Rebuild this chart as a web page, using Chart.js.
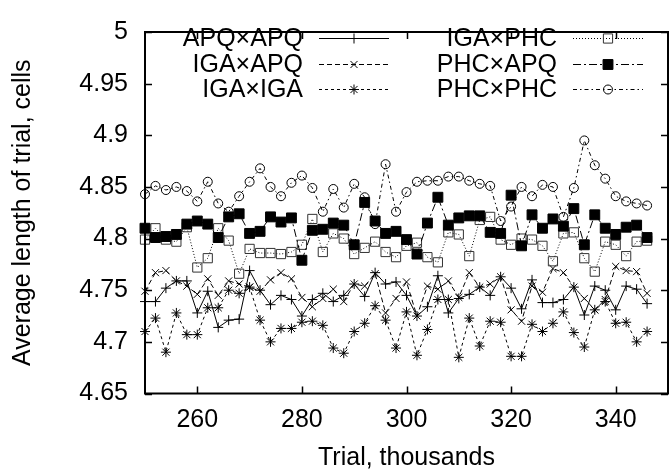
<!DOCTYPE html>
<html>
<head>
<meta charset="utf-8">
<script src="https://cdn.jsdelivr.net/npm/chart.js@4.4.0/dist/chart.umd.min.js"></script>
<style>
  html, body { margin: 0; padding: 0; background: #fff; overflow: hidden; }
  #wrap { width: 676px; height: 474px; }
</style>
</head>
<body>
<div id="wrap"><canvas id="chart" width="676" height="474"></canvas></div>
<script>
// trial, thousands
const trials = [250, 252, 254, 256, 258, 260, 262, 264, 266, 268,
                270, 272, 274, 276, 278, 280, 282, 284, 286, 288,
                290, 292, 294, 296, 298, 300, 302, 304, 306, 308,
                310, 312, 314, 316, 318, 320, 322, 324, 326, 328,
                330, 332, 334, 336, 338, 340, 342, 344, 346];

const xTicks = [260, 280, 300, 320, 340];
const yTicks = [4.65, 4.7, 4.75, 4.8, 4.85, 4.9, 4.95, 5];

// average length of trial, cells
const apqApq = [4.739, 4.739, 4.752, 4.759, 4.759, 4.728, 4.749, 4.714, 4.721, 4.722,
                4.769, 4.750, 4.736, 4.745, 4.741, 4.725, 4.741, 4.747, 4.739, 4.745,
                4.756, 4.744, 4.767, 4.756, 4.758, 4.745, 4.725, 4.734, 4.764, 4.728,
                4.742, 4.746, 4.753, 4.745, 4.763, 4.752, 4.732, 4.760, 4.738, 4.738,
                4.741, 4.753, 4.726, 4.754, 4.750, 4.731, 4.754, 4.751, 4.737];
const igaApq = [4.749, 4.767, 4.769, 4.759, 4.754, 4.746, 4.761, 4.745, 4.759, 4.756,
                4.753, 4.749, 4.760, 4.767, 4.761, 4.743, 4.734, 4.742, 4.751, 4.739,
                4.756, 4.754, 4.766, 4.728, 4.742, 4.758, 4.725, 4.754, 4.751, 4.759,
                4.743, 4.767, 4.753, 4.756, 4.763, 4.731, 4.720, 4.754, 4.748, 4.771,
                4.767, 4.753, 4.742, 4.731, 4.741, 4.773, 4.769, 4.768, 4.747];
const igaIga = [4.710, 4.723, 4.690, 4.728, 4.707, 4.707, 4.733, 4.733, 4.750, 4.747,
                4.753, 4.721, 4.700, 4.713, 4.713, 4.719, 4.720, 4.716, 4.694, 4.689,
                4.710, 4.718, 4.735, 4.721, 4.694, 4.729, 4.687, 4.712, 4.741, 4.741,
                4.685, 4.723, 4.696, 4.720, 4.719, 4.686, 4.686, 4.717, 4.710, 4.718,
                4.729, 4.709, 4.695, 4.731, 4.739, 4.718, 4.719, 4.700, 4.710];
const igaPhc = [4.799, 4.810, 4.799, 4.797, 4.811, 4.772, 4.781, 4.810, 4.798, 4.766,
                4.790, 4.786, 4.786, 4.785, 4.787, 4.794, 4.819, 4.787, 4.805, 4.800,
                4.785, 4.791, 4.797, 4.787, 4.782, 4.793, 4.796, 4.782, 4.777, 4.806,
                4.804, 4.783, 4.818, 4.821, 4.799, 4.794, 4.800, 4.799, 4.793, 4.778,
                4.805, 4.806, 4.781, 4.768, 4.797, 4.794, 4.783, 4.797, 4.798];
const phcApq = [4.810, 4.801, 4.802, 4.804, 4.814, 4.817, 4.814, 4.801, 4.821, 4.824,
                4.805, 4.807, 4.821, 4.816, 4.820, 4.779, 4.808, 4.809, 4.815, 4.813,
                4.794, 4.835, 4.817, 4.805, 4.807, 4.799, 4.785, 4.815, 4.840, 4.813,
                4.820, 4.822, 4.822, 4.806, 4.805, 4.842, 4.793, 4.823, 4.810, 4.819,
                4.812, 4.829, 4.794, 4.823, 4.810, 4.804, 4.811, 4.813, 4.801];
const phcPhc = [4.843, 4.851, 4.847, 4.850, 4.846, 4.836, 4.855, 4.834, 4.826, 4.841,
                4.855, 4.868, 4.850, 4.841, 4.854, 4.861, 4.849, 4.826, 4.848, 4.830,
                4.853, 4.840, 4.814, 4.872, 4.826, 4.845, 4.855, 4.856, 4.856, 4.860,
                4.860, 4.856, 4.853, 4.851, 4.817, 4.831, 4.850, 4.841, 4.852, 4.850,
                4.821, 4.849, 4.895, 4.871, 4.858, 4.841, 4.836, 4.834, 4.832];

const seriesNames = ['APQ\u00d7APQ', 'IGA\u00d7APQ', 'IGA\u00d7IGA', 'IGA\u00d7PHC', 'PHC\u00d7APQ', 'PHC\u00d7PHC'];
const seriesValues = [apqApq, igaApq, igaIga, igaPhc, phcApq, phcPhc];

// gnuplot-like styles
const styles = [
  { dash: [],             point: 'cross',    radius: 5,   fill: 'rgba(0,0,0,0)', border: '#000' },
  { dash: [5, 3],         point: 'crossRot', radius: 5,   fill: 'rgba(0,0,0,0)', border: '#000' },
  { dash: [3, 3],         point: 'star',     radius: 5,   fill: 'rgba(0,0,0,0)', border: '#000' },
  { dash: [1, 2],         point: 'rect',     radius: 6.5, fill: 'rgba(0,0,0,0)', border: '#333' },
  { dash: [8, 3, 2, 3],   point: 'rect',     radius: 7,   fill: '#000',          border: '#000' },
  { dash: [4, 3, 1.5, 3], point: 'circle',   radius: 4.5, fill: 'rgba(0,0,0,0)', border: '#000' }
];

Chart.defaults.font.family = '"Liberation Sans", Arial, sans-serif';
Chart.defaults.font.size = 25;
Chart.defaults.color = '#000';

const datasets = seriesValues.map((vals, i) => ({
  label: seriesNames[i],
  data: trials.map((t, j) => ({ x: t, y: vals[j] })),
  borderColor: '#000',
  borderWidth: 1,
  borderDash: styles[i].dash,
  pointStyle: styles[i].point,
  pointRadius: styles[i].radius,
  pointBorderWidth: 1,
  pointBorderColor: styles[i].border,
  pointBackgroundColor: styles[i].fill,
  tension: 0,
  fill: false,
  clip: false,
  order: 6 - i
}));

// frame, inward ticks and gnuplot-style key
const gnuFrame = {
  id: 'gnuFrame',
  afterDatasetsDraw(chart) {
    const { ctx, chartArea: a, scales: { x, y } } = chart;
    ctx.save();
    ctx.strokeStyle = '#000';
    ctx.setLineDash([]);
    ctx.lineWidth = 1.5;
    ctx.beginPath();
    xTicks.forEach(v => {
      const px = Math.round(x.getPixelForValue(v)) + 0.5;
      ctx.moveTo(px, a.bottom); ctx.lineTo(px, a.bottom - 7);
      ctx.moveTo(px, a.top); ctx.lineTo(px, a.top + 7);
    });
    yTicks.forEach(v => {
      const py = Math.round(y.getPixelForValue(v)) + 0.5;
      ctx.moveTo(a.left, py); ctx.lineTo(a.left + 7, py);
      ctx.moveTo(a.right, py); ctx.lineTo(a.right - 7, py);
    });
    ctx.stroke();
    ctx.lineWidth = 2;
    ctx.strokeRect(a.left, a.top, a.right - a.left, a.bottom - a.top);

    // key
    const textRight = [303, 557];
    const sampleStart = [319, 573];
    const sampleEnd = [389, 643];
    const rowY = [38, 64, 89];
    ctx.font = '25px "Liberation Sans", Arial, sans-serif';
    ctx.textAlign = 'right';
    ctx.textBaseline = 'middle';
    chart.data.datasets.forEach((ds, i) => {
      const col = Math.floor(i / 3), row = i % 3;
      const yy = rowY[row];
      ctx.fillStyle = '#000';
      ctx.fillText(ds.label, textRight[col], yy + 1);
      ctx.lineWidth = 1;
      ctx.strokeStyle = '#000';
      ctx.setLineDash(ds.borderDash);
      ctx.beginPath();
      ctx.moveTo(sampleStart[col], yy + 0.5);
      ctx.lineTo(sampleEnd[col], yy + 0.5);
      ctx.stroke();
      ctx.setLineDash([]);
      ctx.fillStyle = ds.pointBackgroundColor;
      ctx.strokeStyle = ds.pointBorderColor;
      Chart.helpers.drawPoint(ctx, {
        pointStyle: ds.pointStyle, radius: ds.pointRadius, rotation: 0, borderWidth: 1
      }, (sampleStart[col] + sampleEnd[col]) / 2, yy + 0.5);
    });
    ctx.restore();
  }
};

new Chart(document.getElementById('chart'), {
  type: 'line',
  data: { datasets },
  options: {
    responsive: false,
    animation: false,
    layout: { padding: { top: 17, right: 2, left: 0, bottom: 0 } },
    plugins: { legend: { display: false }, tooltip: { enabled: false } },
    scales: {
      x: {
        type: 'linear',
        min: 250,
        max: 350,
        afterBuildTicks: s => { s.ticks = xTicks.map(v => ({ value: v })); },
        afterFit: s => { s.height = 80.5; },
        grid: { display: false, drawTicks: false },
        border: { display: false },
        ticks: { padding: 11.5, maxRotation: 0, font: { size: 25 }, callback: v => String(v) },
        title: { display: true, text: 'Trial, thousands', font: { size: 25 }, padding: { top: 0, bottom: 1 } }
      },
      y: {
        type: 'linear',
        min: 4.65,
        max: 5,
        afterBuildTicks: s => { s.ticks = yTicks.map(v => ({ value: v })); },
        afterFit: s => { s.width = 145; },
        grid: { display: false, drawTicks: false },
        border: { display: false },
        ticks: { padding: 17, font: { size: 25 }, callback: v => String(+v.toFixed(2)) },
        title: { display: true, text: 'Average length of trial, cells', font: { size: 25 }, padding: { top: 8, bottom: 0 } }
      }
    }
  },
  plugins: [gnuFrame]
});
</script>
</body>
</html>
